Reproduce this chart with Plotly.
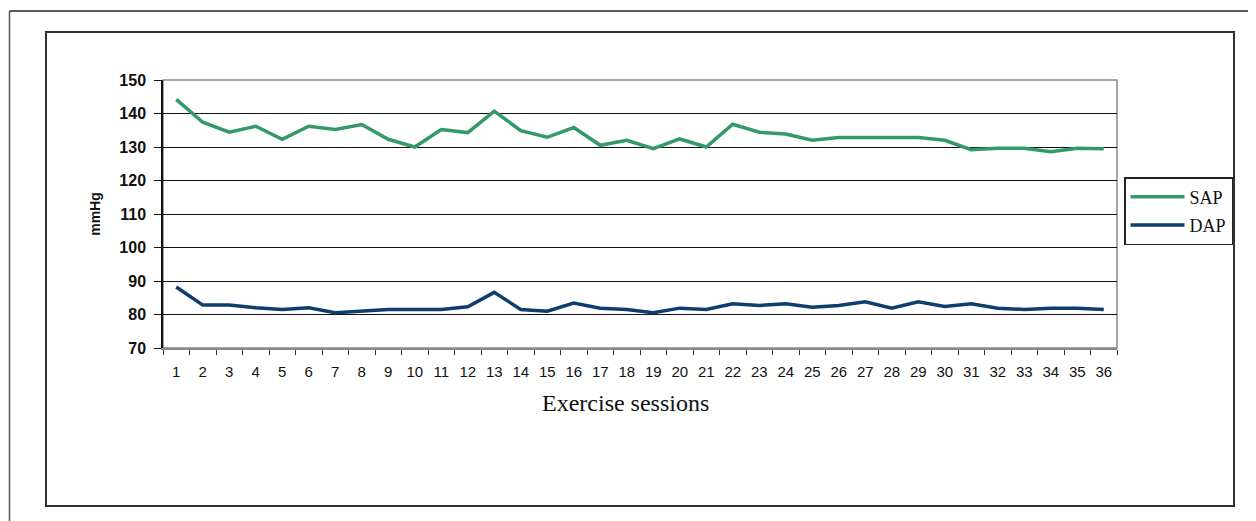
import plotly.graph_objects as go

sessions = [str(i) for i in range(1, 37)]
sap = [144.2, 137.4, 134.4, 136.2, 132.3, 136.2, 135.2, 136.7, 132.3, 130.0,
       135.2, 134.3, 140.7, 134.9, 132.9, 135.8, 130.5, 132.0, 129.5, 132.4,
       130.0, 136.8, 134.4, 133.9, 132.0, 132.8, 132.8, 132.8, 132.8, 132.0,
       129.2, 129.6, 129.6, 128.6, 129.6, 129.5]
dap = [88.2, 82.8, 82.8, 82.0, 81.5, 82.0, 80.5, 81.0, 81.5, 81.5,
       81.5, 82.3, 86.6, 81.5, 81.0, 83.4, 81.9, 81.5, 80.5, 81.9,
       81.5, 83.2, 82.7, 83.2, 82.2, 82.7, 83.8, 81.9, 83.8, 82.4,
       83.2, 81.9, 81.5, 81.9, 81.9, 81.5]
y_ticks = [70, 80, 90, 100, 110, 120, 130, 140, 150]
x_title = "Exercise sessions"

OFF = 8  # default page body margin
W, H = 1256 - OFF, 521 - OFF
L, R, T, B = 163, 1117, 80, 348  # plot area in screen pixels

def px(x):
    return (x - L) / (R - L)

def py(y):
    return (B - y) / (B - T)

fig = go.Figure()
fig.add_trace(go.Scatter(x=sessions, y=sap, mode="lines", name="SAP", legendgroup="a",
                         line=dict(color="#339966", width=3.5)))
fig.add_trace(go.Scatter(x=sessions, y=dap, mode="lines", name="DAP", legendgroup="b",
                         line=dict(color="#0F3D6E", width=3.5)))

shapes = [
    dict(type="line", xref="paper", yref="paper", x0=px(9.5), x1=px(1262), y0=py(11), y1=py(11),
         line=dict(color="#222222", width=1.5)),
    dict(type="line", xref="paper", yref="paper", x0=px(9.5), x1=px(9.5), y0=py(11), y1=py(530),
         line=dict(color="#555555", width=1.5)),
    dict(type="rect", xref="paper", yref="paper", x0=px(46), x1=px(1234), y0=py(32), y1=py(506),
         line=dict(color="#333333", width=2)),
    dict(type="rect", xref="paper", yref="paper", x0=0, x1=1, y0=0, y1=1,
         line=dict(color="#888888", width=1.5), layer="below"),
]

fig.update_layout(
    width=W, height=H,
    margin=dict(l=L - OFF, r=W - (R - OFF), t=T - OFF, b=H - (B - OFF)),
    paper_bgcolor="white", plot_bgcolor="white",
    shapes=shapes,
    showlegend=True,
    legend=dict(x=px(1124), y=py(177), xanchor="left", yanchor="top",
                bordercolor="#222222", borderwidth=1.5, bgcolor="white",
                font=dict(family="Liberation Serif, Times New Roman, serif", size=18, color="#111111"),
                itemwidth=54, traceorder="grouped", tracegroupgap=2),
    annotations=[dict(text=x_title, xref="paper", yref="paper", x=px(625), y=py(403),
                      xanchor="center", yanchor="middle", showarrow=False,
                      font=dict(family="Liberation Serif, Times New Roman, serif", size=24, color="#111111"))],
    xaxis=dict(type="category", tickson="boundaries", ticks="outside", ticklen=5,
               tickcolor="#333333", showline=True, linecolor="#888888", linewidth=1.5,
               showgrid=False, ticklabelstandoff=9,
               tickfont=dict(family="Liberation Sans Narrow, Arial Narrow, Arial", size=15, color="#111111"),
               range=[-0.5, 35.5], fixedrange=True),
    yaxis=dict(range=[70, 150], tickvals=y_ticks, ticks="outside", ticklen=7,
               tickcolor="#111111", showline=True, linecolor="#111111", linewidth=1.5,
               showgrid=True, gridcolor="#111111", gridwidth=1, zeroline=False,
               ticklabelstandoff=5,
               tickfont=dict(family="Liberation Sans, Arial", size=16, color="#111111", weight="bold"),
               title=dict(text="<b>mmHg</b>", standoff=15,
                          font=dict(family="Liberation Sans, Arial", size=14, color="#111111"))),
)

fig.write_html("out.html")
